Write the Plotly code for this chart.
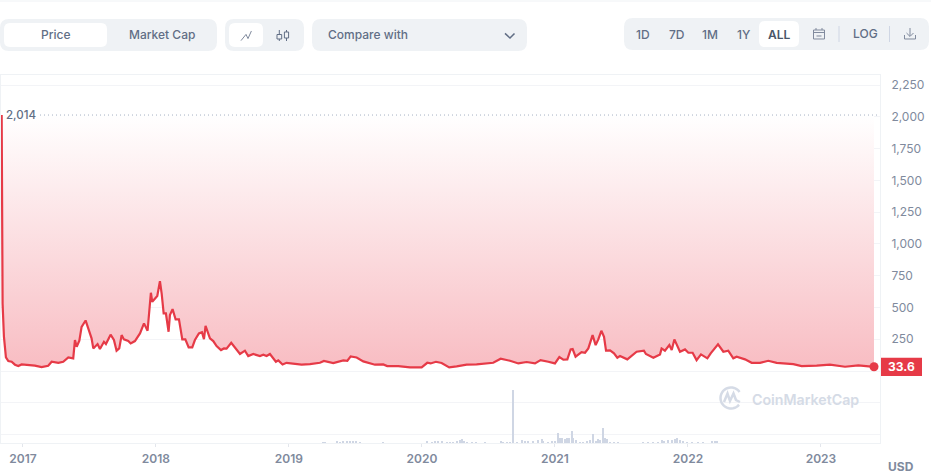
import math
import plotly.graph_objects as go

# dates are decimal years
price_years = [
    2016.84, 2016.847, 2016.857, 2016.872, 2016.89, 2016.915, 2016.94, 2016.965, 2016.99,
    2017.04, 2017.09, 2017.14, 2017.19, 2017.216, 2017.266, 2017.303, 2017.341, 2017.378,
    2017.391, 2017.404, 2017.424, 2017.441, 2017.471, 2017.491, 2017.516, 2017.529, 2017.561,
    2017.579, 2017.609, 2017.624, 2017.659, 2017.684, 2017.704, 2017.724, 2017.742, 2017.759,
    2017.792, 2017.81, 2017.842, 2017.88, 2017.91, 2017.937, 2017.962, 2017.972,
    2018.01, 2018.03, 2018.043, 2018.058, 2018.075, 2018.095, 2018.105, 2018.125, 2018.148,
    2018.173, 2018.198, 2018.221, 2018.246, 2018.273, 2018.293, 2018.323, 2018.346, 2018.361,
    2018.373, 2018.406, 2018.431, 2018.456, 2018.489, 2018.511, 2018.531, 2018.566, 2018.606,
    2018.632, 2018.669, 2018.694, 2018.732, 2018.782, 2018.807, 2018.832, 2018.857, 2018.902,
    2018.92, 2018.952, 2018.982, 2019.033, 2019.095, 2019.158, 2019.233, 2019.263, 2019.333,
    2019.409, 2019.439, 2019.464, 2019.509, 2019.559, 2019.647, 2019.709, 2019.739, 2019.822,
    2019.91, 2019.998, 2020.04, 2020.065, 2020.105, 2020.148, 2020.205, 2020.261, 2020.336,
    2020.411, 2020.536, 2020.592, 2020.662, 2020.725, 2020.787, 2020.85, 2020.892, 2020.95,
    2021.0, 2021.033, 2021.063, 2021.093, 2021.118, 2021.133, 2021.155, 2021.2, 2021.226,
    2021.251, 2021.283, 2021.306, 2021.326, 2021.349, 2021.369, 2021.384, 2021.414, 2021.444,
    2021.469, 2021.489, 2021.544, 2021.614, 2021.669, 2021.684, 2021.74, 2021.79, 2021.802,
    2021.827, 2021.86, 2021.878, 2021.898, 2021.94, 2021.978, 2022.003, 2022.035, 2022.065,
    2022.098, 2022.146, 2022.171, 2022.226, 2022.266, 2022.303, 2022.341, 2022.366, 2022.429,
    2022.479, 2022.542, 2022.604, 2022.667, 2022.792, 2022.855, 2022.968, 2023.068, 2023.181,
    2023.281, 2023.399,
]
price_usd = [
    2014, 530, 270, 107, 79, 73, 50, 39, 52,
    47, 42, 31, 42, 73, 65, 73, 107, 100,
    244, 191, 238, 348, 398, 335, 257, 178, 212,
    173, 230, 212, 286, 244, 160, 178, 283, 249,
    236, 217, 236, 296, 375, 317, 616, 545,
    590, 707, 610, 453, 453, 309, 440, 487, 406,
    406, 249, 249, 186, 186, 244, 296, 306, 251,
    356, 257, 236, 196, 165, 178, 176, 223, 165,
    134, 160, 118, 134, 118, 128, 118, 134, 73,
    84, 52, 65, 58, 50, 55, 65, 79, 63,
    84, 81, 115, 107, 76, 50, 52, 39, 39,
    29, 29, 65, 60, 73, 63, 29, 37, 50,
    52, 65, 97, 81, 60, 71, 60, 86, 73,
    60, 110, 89, 92, 170, 173, 113, 149, 144,
    178, 283, 204, 249, 317, 270, 160, 162, 139,
    105, 118, 92, 152, 160, 134, 105, 131, 178,
    160, 204, 165, 249, 152, 170, 144, 144, 86,
    131, 100, 139, 210, 152, 160, 100, 113, 92,
    65, 65, 81, 65, 55, 39, 42, 50, 34,
    45, 33.6,
]

volume_years = [
    2019.253, 2019.271, 2019.359, 2019.384, 2019.409, 2019.434, 2019.459, 2019.484, 2019.501,
    2019.534, 2019.709, 2020.035, 2020.073, 2020.098, 2020.123, 2020.148, 2020.186, 2020.211,
    2020.236, 2020.261, 2020.286, 2020.301, 2020.316, 2020.336, 2020.374, 2020.404, 2020.474,
    2020.592, 2020.612, 2020.637, 2020.662, 2020.687, 2020.712, 2020.75, 2020.775, 2020.8,
    2020.832, 2020.875, 2020.9, 2020.912, 2020.95, 2020.975, 2021.0, 2021.025, 2021.038,
    2021.055, 2021.075, 2021.093, 2021.108, 2021.125, 2021.138, 2021.155, 2021.188, 2021.213,
    2021.243, 2021.263, 2021.288, 2021.308, 2021.326, 2021.338, 2021.359, 2021.373, 2021.393,
    2021.414, 2021.444, 2021.476, 2021.664, 2021.702, 2021.74, 2021.777, 2021.802, 2021.822,
    2021.852, 2021.877, 2021.902, 2021.92, 2021.94, 2021.965, 2021.99, 2022.028, 2022.078,
    2022.115, 2022.178, 2022.203, 2022.221,
]
volume_musd = [
    10, 10, 20, 10, 15, 15, 20, 25, 15,
    10, 10, 20, 10, 20, 20, 15, 10, 10,
    10, 20, 30, 40, 20, 10, 10, 10, 10,
    20, 10, 10, 10, 530, 10, 30, 20, 20,
    20, 30, 40, 20, 10, 20, 20, 100, 50,
    50, 40, 50, 50, 120, 50, 30, 10, 10,
    20, 30, 90, 20, 40, 30, 150, 50, 40,
    10, 10, 10, 10, 10, 10, 10, 30, 20,
    30, 30, 40, 50, 30, 15, 10, 10, 10,
    10, 20, 20, 15,
]

price_ticks = [-500, -250, 0, 250, 500, 750, 1000, 1250, 1500, 1750, 2000, 2250]
price_labels = ["", "", "", "250", "500", "750", "1,000", "1,250", "1,500", "1,750", "2,000", "2,250"]
year_ticks = [2017, 2018, 2019, 2020, 2021, 2022, 2023]
all_time_high = 2014

RED = "#e63a47"
PANEL = "#eff2f5"
GREY = "#808a9d"
SLATE = "#616e85"
FONT = "Inter"

W, H = 931, 475
L, R, T, B = 1, 880, 75, 443


def px(x):
    return (x - L) / (R - L)


def py(y):
    return (B - y) / (B - T)


def path_shape(points, color, width=1.0, closed=False):
    d = "M" + " L".join(f"{px(x):.5f},{py(y):.5f}" for x, y in points)
    if closed:
        d += " Z"
    return dict(type="path", xref="paper", yref="paper", path=d,
                line=dict(color=color, width=width), layer="above")


def panel(x0, y0, x1, y1, r, color):
    d = (f"M{px(x0 + r):.5f},{py(y0):.5f} L{px(x1 - r):.5f},{py(y0):.5f} "
         f"Q{px(x1):.5f},{py(y0):.5f} {px(x1):.5f},{py(y0 + r):.5f} "
         f"L{px(x1):.5f},{py(y1 - r):.5f} "
         f"Q{px(x1):.5f},{py(y1):.5f} {px(x1 - r):.5f},{py(y1):.5f} "
         f"L{px(x0 + r):.5f},{py(y1):.5f} "
         f"Q{px(x0):.5f},{py(y1):.5f} {px(x0):.5f},{py(y1 - r):.5f} "
         f"L{px(x0):.5f},{py(y0 + r):.5f} "
         f"Q{px(x0):.5f},{py(y0):.5f} {px(x0 + r):.5f},{py(y0):.5f} Z")
    return dict(type="path", xref="paper", yref="paper", path=d,
                fillcolor=color, line=dict(width=0), layer="above")


def label(x, y, text, size=12, color=SLATE, weight=500, anchor="center"):
    return dict(xref="paper", yref="paper", x=px(x), y=py(y), text=text, showarrow=False,
                xanchor=anchor, yanchor="middle", borderpad=0,
                font=dict(family=FONT, size=size, color=color, weight=weight))


def arc(cx, cy, r, a0, a1, n=30):
    return [(cx + r * math.cos(math.radians(a0 + (a1 - a0) * i / n)),
             cy + r * math.sin(math.radians(a0 + (a1 - a0) * i / n))) for i in range(n + 1)]


fig = go.Figure()

# invisible ceiling at the all time high, the fill sits above the price line
fig.add_trace(go.Scatter(
    x=price_years, y=[all_time_high] * len(price_years),
    mode="lines", line=dict(width=0), hoverinfo="skip", showlegend=False,
))
fig.add_trace(go.Scatter(
    x=price_years, y=price_usd, mode="lines",
    line=dict(color=RED, width=2.2), fill="tonexty",
    fillgradient=dict(type="vertical", start=0, stop=all_time_high,
                      colorscale=[[0, "#f8bcc2"], [1, "#ffffff"]]),
    showlegend=False,
))
fig.add_trace(go.Scatter(
    x=price_years[-1:], y=price_usd[-1:], mode="markers",
    marker=dict(color=RED, size=9), cliponaxis=False, showlegend=False,
))
fig.add_trace(go.Bar(
    x=volume_years, y=volume_musd, yaxis="y2", width=0.007,
    marker=dict(color="#cfd6e4", line=dict(width=0)), showlegend=False,
))

shapes = [
    dict(type="line", xref="paper", yref="paper", x0=px(0), x1=px(W), y0=py(1), y1=py(1),
         line=dict(color=PANEL, width=1)),
    dict(type="line", xref="paper", yref="y", x0=px(40), x1=px(878),
         y0=all_time_high, y1=all_time_high,
         line=dict(color="#a6b0c3", width=1, dash="1px,3px")),
    # red price tag
    dict(type="rect", xref="paper", yref="y", x0=px(881), x1=px(922),
         y0=price_usd[-1] - 72, y1=price_usd[-1] + 72,
         fillcolor=RED, line=dict(width=0), layer="above"),
    # toolbar panels
    panel(0, 19, 217, 51, 9, PANEL),
    panel(4, 23, 107, 47, 6, "#ffffff"),
    panel(225, 19, 304, 51, 9, PANEL),
    panel(229, 23, 263, 47, 6, "#ffffff"),
    panel(312, 19, 527, 51, 9, PANEL),
    panel(624, 18, 929, 50, 9, PANEL),
    panel(759, 21, 799, 47, 6, "#ffffff"),
    # line and candle icons
    path_shape([(241, 40.6), (246, 34.4), (248, 38.6), (251.4, 31)], GREY),
    path_shape([(279.3, 30), (279.3, 34.5)], SLATE),
    path_shape([(279.3, 39), (279.3, 41)], SLATE),
    path_shape([(277, 34.5), (281.7, 34.5), (281.7, 39), (277, 39)], SLATE, closed=True),
    path_shape([(286.5, 30), (286.5, 32)], SLATE),
    path_shape([(286.5, 38), (286.5, 41)], SLATE),
    path_shape([(284.4, 32), (288.6, 32), (288.6, 38), (284.4, 38)], SLATE, closed=True),
    # chevron
    path_shape([(505, 33.4), (510, 38), (514.5, 33.4)], SLATE, 1.5),
    # calendar
    path_shape([(813.5, 30), (824.5, 30), (824.5, 39), (813.5, 39)], GREY, closed=True),
    path_shape([(813.5, 32.5), (824.5, 32.5)], GREY),
    path_shape([(816, 28), (816, 30)], GREY),
    path_shape([(822, 28), (822, 30)], GREY),
    path_shape([(816.5, 36), (821.5, 36)], GREY),
    # dividers
    path_shape([(839, 26), (839, 42)], "#cfd6e4"),
    path_shape([(889.5, 26), (889.5, 42)], "#cfd6e4"),
    # download
    path_shape([(910, 28), (910, 36)], GREY),
    path_shape([(906.5, 33), (910, 36.5), (913.5, 33)], GREY),
    path_shape([(904.5, 35), (904.5, 39), (915.5, 39), (915.5, 35)], GREY),
    # watermark logo
    path_shape(arc(731, 398, 10.5, 40, 325), "#d5dbe6", 2.5),
    path_shape([(724, 402), (727.5, 393.5), (730, 401), (733.5, 393.5), (736, 400),
                (740, 402)], "#d5dbe6", 2.5),
]

annotations = [
    label(55.5, 34.5, "Price"),
    label(161.5, 34.5, "Market Cap"),
    label(327, 34.5, "Compare with", anchor="left"),
    label(643, 35, "1D"),
    label(677, 35, "7D"),
    label(710, 35, "1M"),
    label(744, 35, "1Y"),
    label(779, 35, "ALL", color="#4a5568", weight=600),
    label(865, 34, "LOG"),
    label(5, 115, f"{all_time_high:,}", size=11.5, anchor="left"),
    label(901, 466, "USD", size=12, color=GREY, weight=700),
    label(751, 399, "CoinMarketCap", size=14.2, color="#d5dbe6", weight=600, anchor="left"),
    dict(xref="paper", yref="y", x=px(901.5), y=price_usd[-1], text=str(price_usd[-1]),
         showarrow=False, xanchor="center", yanchor="middle",
         font=dict(family=FONT, size=12, color="#ffffff", weight=700)),
]

fig.update_layout(
    width=W, height=H,
    margin=dict(l=L, r=W - R, t=T, b=H - B, pad=0),
    paper_bgcolor="#ffffff", plot_bgcolor="#ffffff",
    font=dict(family=FONT),
    bargap=0,
    showlegend=False,
    xaxis=dict(
        range=[2016.835, 2023.444], tickvals=year_ticks, ticktext=[str(y) for y in year_ticks],
        showgrid=False, zeroline=False, showline=True, linecolor="#eff2f5", mirror=True,
        ticks="outside", ticklen=3, tickcolor="#e3e6ec", ticklabelstandoff=2,
        tickfont=dict(family=FONT, size=12, color=GREY, weight=600),
    ),
    yaxis=dict(
        side="right", range=[-566, 2329], tickvals=price_ticks, ticktext=price_labels,
        gridcolor="#f3f4f7", zeroline=False, showline=True, linecolor="#eff2f5", mirror=True,
        ticks="", ticklabelstandoff=8,
        tickfont=dict(family=FONT, size=12, color=GREY),
    ),
    yaxis2=dict(overlaying="y", range=[0, 3680], visible=False),
    shapes=shapes,
    annotations=annotations,
)

# the page's default body margin would push the chart 8px in
fig.write_html("out.html", config=dict(displayModeBar=False),
               post_script="document.body.style.margin='0';")
